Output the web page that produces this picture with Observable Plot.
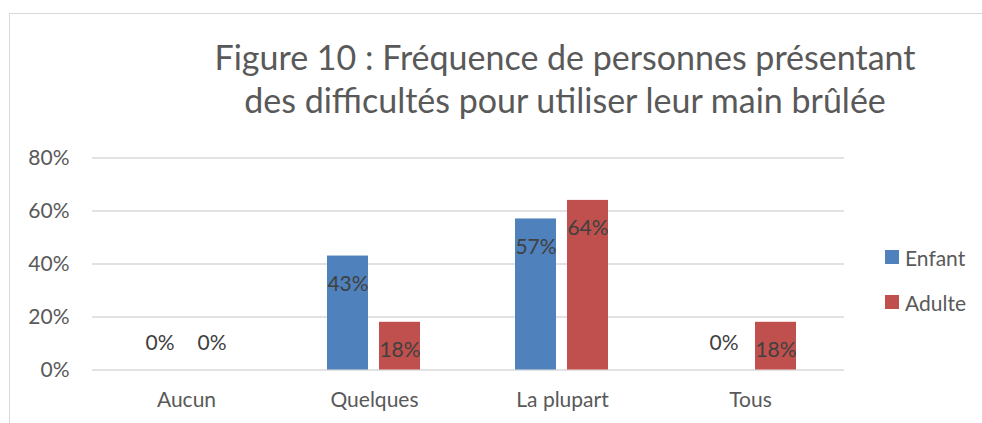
<!DOCTYPE html>
<html>
<head>
<meta charset="utf-8">
<script src="https://cdn.jsdelivr.net/npm/d3@7"></script>
<script src="https://cdn.jsdelivr.net/npm/@observablehq/plot@0.6"></script>
<style>
  html, body { margin: 0; padding: 0; background: #fff; }
  #wrap { position: relative; width: 982px; height: 423px; overflow: hidden; font-family: Lato, "Open Sans", sans-serif; color: #595959; background: #fff; }
  #frame { position: absolute; left: 9px; top: 13px; width: 1000px; height: 500px; border-left: 1.5px solid #d9d9d9; border-top: 1.5px solid #d9d9d9; box-sizing: border-box; pointer-events: none; }
  #title { position: absolute; left: 165px; width: 800px; top: 35px; text-align: center; font-size: 34px; line-height: 43px; color: #595959; }
  #chart { position: absolute; left: 0; top: 130px; }
  #legend { position: absolute; left: 885px; top: 245px; font-size: 21px; color: #595959; }
  .item { display: flex; align-items: center; height: 24px; margin-bottom: 21px; }
  .sw { width: 14px; height: 14px; margin-right: 6px; }
</style>
</head>
<body>
<div id="wrap">
  <div id="title">Figure 10 : Fréquence de personnes présentant<br>des difficultés pour utiliser leur main brûlée</div>
  <div id="chart"></div>
  <div id="legend"></div>
  <div id="frame"></div>
</div>
<script>
const categories = ["Aucun", "Quelques", "La plupart", "Tous"];
const series = ["Enfant", "Adulte"];
const enfant = [0, 0.43, 0.57, 0];
const adulte = [0, 0.18, 0.64, 0.18];
const yTicks = [0, 0.2, 0.4, 0.6, 0.8];
const colors = ["#4F81BD", "#C0504D"];

const data = [];
categories.forEach((c, i) => {
  data.push({category: c, series: "Enfant", value: enfant[i]});
  data.push({category: c, series: "Adulte", value: adulte[i]});
});
const pct = v => Math.round(v * 100) + "%";

const chart = Plot.plot({
  width: 982,
  height: 293,
  marginLeft: 90,
  marginRight: 137,
  marginTop: 27.5,
  marginBottom: 53.5,
  style: {fontFamily: "Lato, 'Open Sans', sans-serif", fontSize: "21px", color: "#595959", background: "transparent"},
  fx: {domain: categories, paddingInner: 0, paddingOuter: 0, axis: "bottom", label: null, tickSize: 0, tickPadding: 22},
  x: {domain: series, paddingInner: 0.2075, paddingOuter: 0.884, axis: null},
  y: {domain: [0, 0.8], ticks: yTicks, tickFormat: d => Math.round(d * 100) + "%", tickSize: 0, tickPadding: 23, label: null},
  color: {domain: series, range: colors},
  marks: [
    Plot.ruleY(yTicks, {stroke: "#d9d9d9", strokeWidth: 1.5}),
    Plot.barY(data, {fx: "category", x: "series", y: "value", fill: "series"}),
    Plot.text(data.filter(d => d.value > 0), {fx: "category", x: "series", y: "value", text: d => pct(d.value), dy: 28, fill: "#404040", fontSize: 21}),
    Plot.text(data.filter(d => d.value === 0), {fx: "category", x: "series", y: "value", text: d => pct(d.value), dy: -26.5, fill: "#404040", fontSize: 21})
  ]
});
document.getElementById("chart").appendChild(chart);

const legend = document.getElementById("legend");
series.forEach((s, i) => {
  const item = document.createElement("div");
  item.className = "item";
  const sw = document.createElement("div");
  sw.className = "sw";
  sw.style.background = colors[i];
  const t = document.createElement("span");
  t.textContent = s;
  item.appendChild(sw);
  item.appendChild(t);
  legend.appendChild(item);
});
</script>
</body>
</html>
